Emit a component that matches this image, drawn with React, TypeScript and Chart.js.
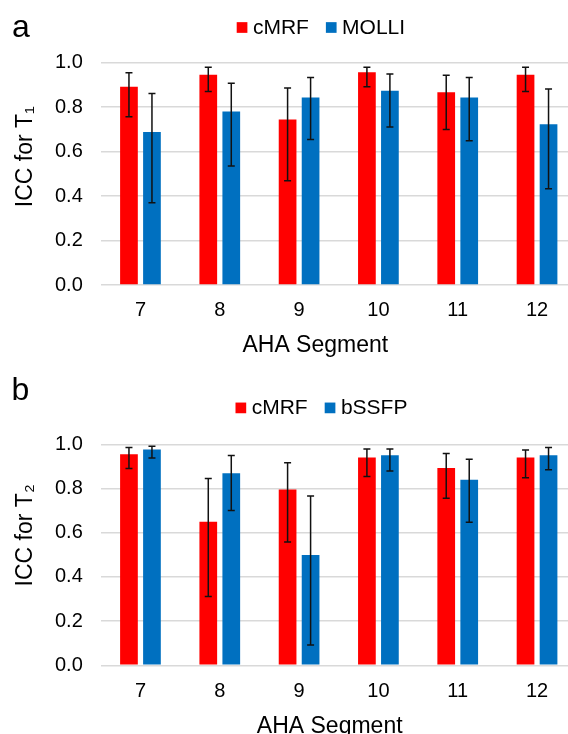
import React, { useEffect, useRef } from 'react';
import { Chart, registerables } from 'chart.js';

Chart.register(...registerables);

// ---------- data ----------
const segments = ['7', '8', '9', '10', '11', '12'];
const yTickValues = [0, 0.2, 0.4, 0.6, 0.8, 1.0];

const t1Cmrf = [0.892, 0.946, 0.744, 0.957, 0.867, 0.946];
const t1CmrfLow = [0.757, 0.871, 0.469, 0.892, 0.7, 0.871];
const t1CmrfHigh = [0.955, 0.979, 0.886, 0.979, 0.943, 0.979];
const t1Molli = [0.688, 0.781, 0.843, 0.874, 0.843, 0.723];
const t1MolliLow = [0.37, 0.535, 0.654, 0.711, 0.649, 0.433];
const t1MolliHigh = [0.861, 0.907, 0.933, 0.949, 0.933, 0.882];

const t2Cmrf = [0.955, 0.65, 0.795, 0.94, 0.893, 0.94];
const t2CmrfLow = [0.89, 0.311, 0.558, 0.854, 0.756, 0.849];
const t2CmrfHigh = [0.985, 0.845, 0.917, 0.979, 0.958, 0.974];
const t2Bssfp = [0.976, 0.869, 0.499, 0.95, 0.84, 0.95];
const t2BssfpLow = [0.938, 0.7, 0.092, 0.879, 0.647, 0.885];
const t2BssfpHigh = [0.991, 0.949, 0.766, 0.979, 0.932, 0.985];

const RED = '#FF0000';
const BLUE = '#0070C0';
const FONT = "'Liberation Sans', Arial, sans-serif";
const CANVAS_W = 600;

// ---------- plugins ----------
const errorBarPlugin = {
  id: 'errorBars',
  afterDatasetsDraw(chart: any) {
    const ctx = chart.ctx;
    const yScale = chart.scales.y;
    chart.data.datasets.forEach((ds: any, i: number) => {
      const meta = chart.getDatasetMeta(i);
      meta.data.forEach((bar: any, j: number) => {
        const x = bar.x;
        const yHi = yScale.getPixelForValue(ds.errHigh[j]);
        const yLo = yScale.getPixelForValue(ds.errLow[j]);
        const cap = 3.5;
        ctx.save();
        ctx.strokeStyle = '#111111';
        ctx.lineWidth = 1.5;
        ctx.beginPath();
        ctx.moveTo(x, yHi);
        ctx.lineTo(x, yLo);
        ctx.moveTo(x - cap, yHi);
        ctx.lineTo(x + cap, yHi);
        ctx.moveTo(x - cap, yLo);
        ctx.lineTo(x + cap, yLo);
        ctx.stroke();
        ctx.restore();
      });
    });
  },
};

const decorPlugin = {
  id: 'decor',
  afterDraw(chart: any, _args: any, o: any) {
    const ctx = chart.ctx;
    ctx.save();
    ctx.fillStyle = '#000';
    // panel letter
    ctx.font = `32px ${FONT}`;
    ctx.textAlign = 'left';
    ctx.textBaseline = 'alphabetic';
    ctx.fillText(o.letter, o.letterX, o.letterY);
    // legend
    const box = 10.7;
    ctx.font = `21px ${FONT}`;
    ctx.textBaseline = 'middle';
    let x = o.legendX;
    chart.data.datasets.forEach((ds: any) => {
      ctx.fillStyle = ds.backgroundColor;
      ctx.fillRect(x, o.legendY - box / 2, box, box);
      x += box + 5.5;
      ctx.fillStyle = '#000';
      ctx.fillText(ds.label, x, o.legendY + 0.5);
      x += ctx.measureText(ds.label).width + 17;
    });
    // x title
    ctx.font = `23px ${FONT}`;
    ctx.textAlign = 'center';
    ctx.textBaseline = 'alphabetic';
    ctx.fillText(o.xTitle, o.xTitleX, o.xTitleY);
    // y title
    ctx.translate(o.yTitleX, o.yTitleY);
    ctx.rotate(-Math.PI / 2);
    ctx.fillText(o.yTitle, 0, 0);
    ctx.restore();
  },
};

type PanelProps = {
  top: number;
  height: number;
  labels: string[];
  series: { label: string; color: string; values: number[]; low: number[]; high: number[] }[];
  padTop: number;
  xAxisHeight: number;
  xTickPad: number;
  decor: any;
};

function BarPanel({ top, height, labels, series, padTop, xAxisHeight, xTickPad, decor }: PanelProps) {
  const ref = useRef<HTMLCanvasElement | null>(null);
  useEffect(() => {
    if (!ref.current) return;
    const chart = new Chart(ref.current, {
      type: 'bar',
      data: {
        labels,
        datasets: series.map((s) => ({
          label: s.label,
          data: s.values,
          backgroundColor: s.color,
          borderWidth: 0,
          categoryPercentage: 0.58,
          barPercentage: 0.77,
          errLow: s.low,
          errHigh: s.high,
        })) as any,
      },
      options: {
        responsive: false,
        animation: false,
        devicePixelRatio: 1,
        layout: { padding: { top: padTop, left: 0, right: CANVAS_W - 576.7, bottom: 0 } },
        plugins: {
          legend: { display: false },
          tooltip: { enabled: false },
          decor,
        } as any,
        scales: {
          x: {
            grid: { display: false, drawTicks: false },
            border: { display: false },
            ticks: { font: { family: FONT, size: 20 }, color: '#000', padding: xTickPad },
            afterFit: (s: any) => {
              s.height = xAxisHeight;
            },
          },
          y: {
            min: 0,
            max: 1,
            afterBuildTicks: (s: any) => {
              s.ticks = yTickValues.map((v) => ({ value: v }));
            },
            grid: { color: '#d9d9d9', lineWidth: 1.5, drawTicks: false },
            border: { display: false },
            ticks: {
              font: { family: FONT, size: 20 },
              color: '#000',
              padding: 18,
              callback: (v: any) => Number(v).toFixed(1),
            },
            afterFit: (s: any) => {
              s.width = 100.8;
            },
          },
        },
      } as any,
      plugins: [errorBarPlugin, decorPlugin],
    });
    return () => chart.destroy();
  }, []);
  return (
    <canvas
      ref={ref}
      width={CANVAS_W}
      height={height}
      style={{ position: 'absolute', left: 0, top, width: CANVAS_W, height, display: 'block' }}
    />
  );
}

export default function App() {
  return (
    <div
      style={{
        position: 'fixed',
        left: 0,
        top: 0,
        width: 568,
        height: 734,
        overflow: 'hidden',
        background: '#fff',
      }}
    >
      <BarPanel
        top={0}
        height={367}
        labels={segments}
        padTop={62.7}
        xAxisHeight={82}
        xTickPad={13}
        series={[
          { label: 'cMRF', color: RED, values: t1Cmrf, low: t1CmrfLow, high: t1CmrfHigh },
          { label: 'MOLLI', color: BLUE, values: t1Molli, low: t1MolliLow, high: t1MolliHigh },
        ]}
        decor={{
          letter: 'a',
          letterX: 12,
          letterY: 37,
          legendX: 236.7,
          legendY: 27.5,
          xTitle: 'AHA Segment',
          xTitleX: 315.3,
          xTitleY: 351.5,
          yTitle: 'ICC for T\u2081',
          yTitleX: 31.5,
          yTitleY: 156.7,
        }}
      />
      <BarPanel
        top={367}
        height={380}
        labels={segments}
        padTop={77.3}
        xAxisHeight={81.7}
        xTickPad={14}
        series={[
          { label: 'cMRF', color: RED, values: t2Cmrf, low: t2CmrfLow, high: t2CmrfHigh },
          { label: 'bSSFP', color: BLUE, values: t2Bssfp, low: t2BssfpLow, high: t2BssfpHigh },
        ]}
        decor={{
          letter: 'b',
          letterX: 11.5,
          letterY: 33.3,
          legendX: 235.5,
          legendY: 40.9,
          xTitle: 'AHA Segment',
          xTitleX: 329.7,
          xTitleY: 366.2,
          yTitle: 'ICC for T\u2082',
          yTitleX: 31.5,
          yTitleY: 168.3,
        }}
      />
    </div>
  );
}
